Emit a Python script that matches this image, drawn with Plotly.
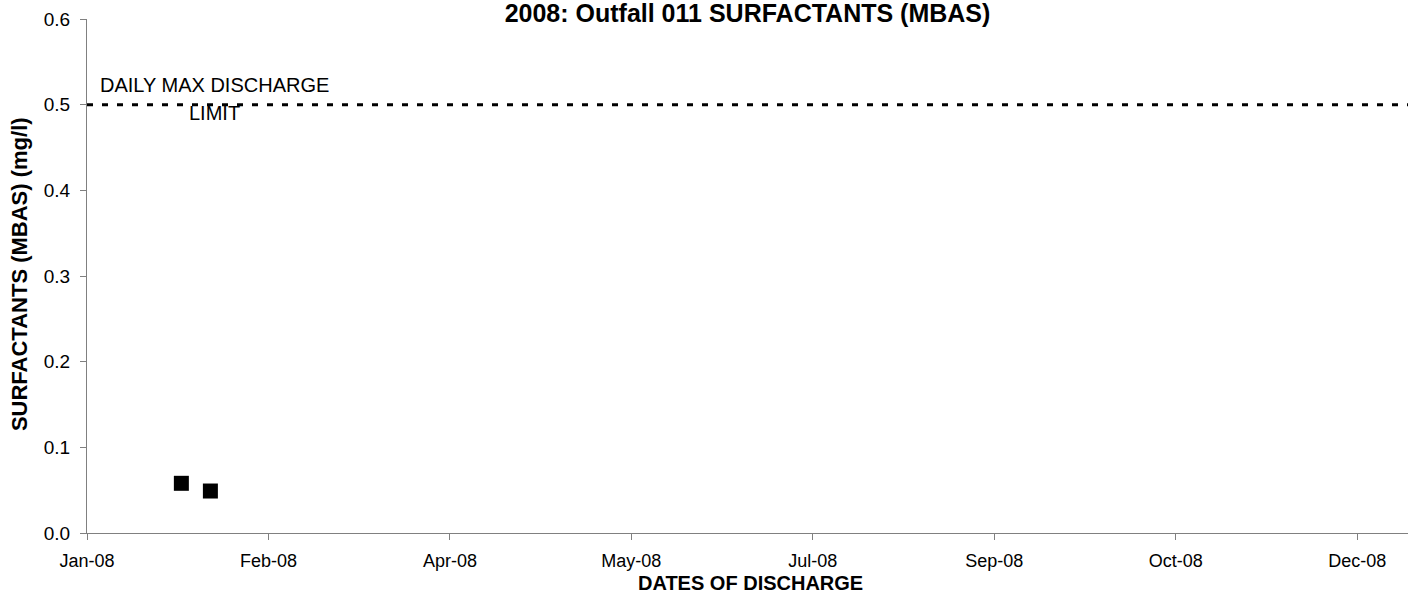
import plotly.graph_objects as go

# sample results, 2008
sample_dates = ["2008-01-27", "2008-02-04"]
mbas_values = [0.058, 0.049]

# discharge limit
limit_value = 0.5
limit_label = ["DAILY MAX DISCHARGE", "LIMIT"]
axis_start = "2008-01-01"
axis_end = "2008-12-30"

y_ticks = [0.0, 0.1, 0.2, 0.3, 0.4, 0.5, 0.6]
y_tick_text = ["0.0", "0.1", "0.2", "0.3", "0.4", "0.5", "0.6"]

FONT = "Liberation Sans, Arial, sans-serif"
AXIS_GREY = "#808080"
DAY_MS = 86400000
FIG_W, FIG_H = 1413, 600

fig = go.Figure()

fig.add_trace(go.Scatter(
    x=[axis_start, axis_end], y=[limit_value, limit_value],
    mode="lines", line=dict(color="black", width=3, dash="6px,9px"),
    showlegend=False, hoverinfo="skip", cliponaxis=False))

fig.add_trace(go.Scatter(
    x=sample_dates, y=mbas_values, mode="markers",
    marker=dict(symbol="square", size=15, color="black"),
    name="SURFACTANTS (MBAS)", showlegend=False))

# limit label, two lines
fig.add_annotation(x="2008-02-05", y=0.523, text=limit_label[0],
                   showarrow=False, xanchor="center", yanchor="middle",
                   font=dict(family=FONT, size=20, color="black"))
fig.add_annotation(x="2008-02-05", y=0.4905, text=limit_label[1],
                   showarrow=False, xanchor="center", yanchor="middle",
                   font=dict(family=FONT, size=20, color="black"))

# axis titles
fig.add_annotation(xref="paper", yref="paper", x=0.502, y=-0.097,
                   text="<b>DATES OF DISCHARGE</b>", showarrow=False,
                   xanchor="center", yanchor="middle",
                   font=dict(family=FONT, size=20, color="black"))
fig.add_annotation(xref="paper", yref="paper", x=-0.051, y=0.503,
                   text="<b>SURFACTANTS (MBAS) (mg/l)</b>", showarrow=False,
                   textangle=-90, xanchor="center", yanchor="middle",
                   font=dict(family=FONT, size=22, color="black"))

fig.update_layout(
    width=FIG_W, height=FIG_H,
    margin=dict(l=87, r=5, t=19, b=67),
    paper_bgcolor="white", plot_bgcolor="white",
    font=dict(family=FONT, color="black"),
    title=dict(text="<b>2008: Outfall 011 SURFACTANTS (MBAS)</b>",
               x=0.5, xref="paper", xanchor="center",
               y=1 - 13 / FIG_H, yref="container", yanchor="middle",
               font=dict(family=FONT, size=25, color="black")),
    showlegend=False,
)

fig.update_xaxes(
    type="date", range=[axis_start, axis_end],
    tick0=axis_start, dtick=50 * DAY_MS, tickformat="%b-%y",
    showgrid=False, zeroline=False,
    showline=True, linecolor=AXIS_GREY, linewidth=1,
    ticks="outside", ticklen=6, tickcolor=AXIS_GREY, tickwidth=1,
    ticklabelstandoff=5,
    tickfont=dict(family=FONT, size=18, color="black"),
)

fig.update_yaxes(
    range=[0, 0.6], tickvals=y_ticks, ticktext=y_tick_text,
    showgrid=False, zeroline=False,
    showline=True, linecolor=AXIS_GREY, linewidth=1,
    ticks="outside", ticklen=6, tickcolor=AXIS_GREY, tickwidth=1,
    ticklabelstandoff=6,
    tickfont=dict(family=FONT, size=19, color="black"),
)

# drop the default 8px page margin so the figure fills the window
fig.write_html("out.html", config={"displayModeBar": False},
               post_script="document.body.style.margin = '0px';")
